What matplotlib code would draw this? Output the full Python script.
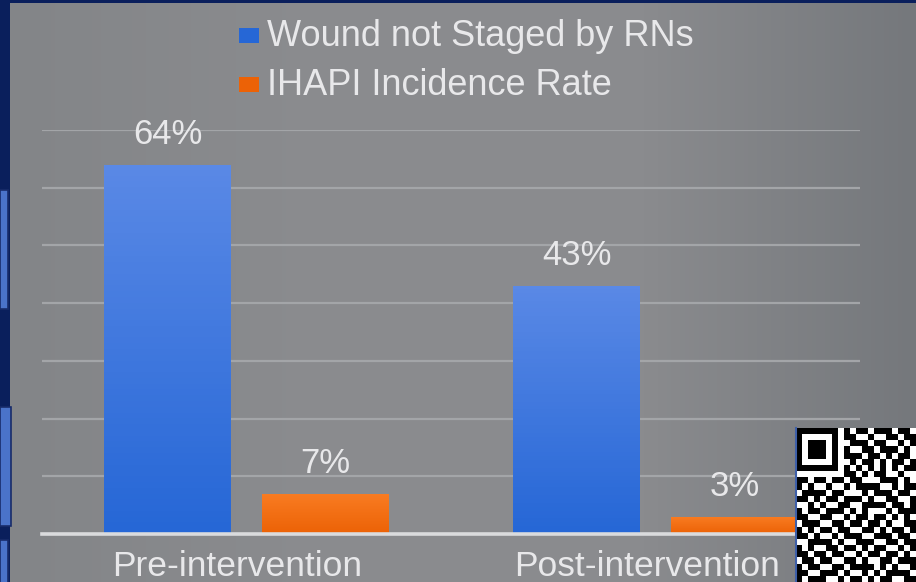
"""Wound staging vs IHAPI incidence, pre/post intervention — grouped bar slide recreation."""
import numpy as np
import matplotlib
matplotlib.use("Agg")
import matplotlib.pyplot as plt
from matplotlib.colors import LinearSegmentedColormap, to_rgb
from matplotlib.patches import Rectangle
from matplotlib.transforms import ScaledTranslation, blended_transform_factory

# --- Data ------------------------------------------------------------------------------------- #
CATEGORIES = ["Pre-intervention", "Post-intervention"]
SERIES = ["Wound not Staged by RNs", "IHAPI Incidence Rate"]
WOUND_NOT_STAGED = [64, 43]     # %
IHAPI_RATE = [7, 3]             # %
Y_TICKS = [10, 20, 30, 40, 50, 60, 70]

# slide decoration: the QR code cropped at the bottom-right corner (visible part only)
QR_ROWS = [
    "11111110101101110110",
    "10000010110010011011",
    "10111010011101100101",
    "10111010100110111010",
    "10111010111011010110",
    "10000010010110101101",
    "11111110101010101011",
    "00000000110101100100",
    "11011011011000111010",
    "10100100101111001011",
    "01111011000101110110",
    "11010110111010011001",
    "00101001100111101101",
    "10110111010100010111",
    "11001100101101101010",
    "01110011011011010011",
    "10101101100110101101",
    "11010010111001110110",
    "00111101001110011011",
    "10100110110101100101",
    "11011011001011011010",
    "01101100110100110111",
    "10110011011110101001",
    "11001110100101011110",
    "10111001011010110011",
]

W, H = 916, 582
NAVY = "#0a1f5c"
TEXT = "#e8e8ea"
BLUE = ("#5a89e6", "#2667d6")       # top, bottom
ORANGE = ("#f97c22", "#ec6206")
FS = 25

plt.rcParams["font.family"] = ["Liberation Sans", "DejaVu Sans"]


def fx(px):
    return px / W


def fy(py):
    return 1 - py / H


fig = plt.figure(figsize=(W / 100, H / 100), dpi=100, facecolor=NAVY)

# --- slide background: gray gradient panel inside the navy frame ------------------------------- #
bg = fig.add_axes([fx(10), 0, fx(W - 10), fy(3)])
bg.set_axis_off()
cols = np.array([to_rgb(c) for c in ("#838588", "#8b8c8f", "#8a8b8e", "#75787c")])
xs = np.linspace(0, 1, 200)
stops = np.array([0.0, 0.35, 0.7, 1.0])
row = np.stack([np.interp(xs, stops, cols[:, k]) for k in range(3)], axis=-1)
bg.imshow(row[None, :, :], aspect="auto", extent=(0, 1, 0, 1))
bg.set_xlim(0, 1)
bg.set_ylim(0, 1)

# blue tabs peeking from the left edge
for y0, y1, x1 in ((190, 309, 8), (407, 526, 11), (540, 590, 8)):
    fig.patches.append(Rectangle((0, fy(y1)), fx(x1), fy(y0) - fy(y1), transform=fig.transFigure,
                                 facecolor="#4a73c9", edgecolor="#182c6a", lw=1.2, zorder=5))

# --- the chart ---------------------------------------------------------------------------------- #
ax = fig.add_axes([fx(42), fy(534), fx(860 - 42), fy(130) - fy(534)])
ax.set_facecolor("none")
x = np.arange(len(CATEGORIES))
width = 0.31
offset = 0.193

for vals, sign, (c_top, c_bot) in ((WOUND_NOT_STAGED, -1, BLUE), (IHAPI_RATE, 1, ORANGE)):
    bars = ax.bar(x + sign * offset, vals, width, color=c_bot, zorder=3)
    cmap = LinearSegmentedColormap.from_list("g", [c_bot, c_top])
    for b, v in zip(bars, vals):
        x0 = b.get_x()
        im = ax.imshow(np.linspace(0, 1, 64)[::-1, None], cmap=cmap, aspect="auto",
                       extent=(x0, x0 + width, 0, v), zorder=3.5)
        im.set_clip_path(b)
        ax.annotate(f"{v}%", (b.get_x() + width / 2, v), xytext=(0, 10), textcoords="offset points",
                    ha="center", va="bottom", fontsize=FS, color=TEXT)

ax.set_xlim(-0.5, 1.5)
ax.set_ylim(0, 70)
ax.set_yticks(Y_TICKS)
ax.yaxis.grid(True, color="#a3a5a8", lw=1.6, zorder=1)
ax.tick_params(axis="y", length=0, labelleft=False)
ax.axhline(0, color="#dadbdd", lw=2.6, zorder=4, clip_on=False)
ax.set_xticks([])
for s in ax.spines.values():
    s.set_visible(False)

# category labels: baseline ~42 px under the axis line, nudged a little left as on the slide
lab_tr = blended_transform_factory(ax.transData, ax.transAxes) + \
    ScaledTranslation(-9 / 100, -42 / 100, fig.dpi_scale_trans)
for xi, name in zip(x, CATEGORIES):
    ax.text(xi, 0, name, transform=lab_tr, fontsize=FS + 0.5, color=TEXT,
            ha="center", va="baseline", clip_on=False)

# legend at the top, hand-placed like the slide
for name, c, base, top in ((SERIES[0], BLUE[1], 46, 28), (SERIES[1], ORANGE[1], 95, 77)):
    fig.patches.append(Rectangle((fx(239), fy(top + 15)), fx(20), fy(top) - fy(top + 15),
                                 transform=fig.transFigure, facecolor=c, edgecolor="none"))
    fig.text(fx(267), fy(base), name, fontsize=FS + 1, color=TEXT, ha="left", va="baseline")

# QR code (cropped) at the bottom-right
qr = np.array([[int(ch) for ch in r] for r in QR_ROWS])
qax = fig.add_axes([fx(796), 0, fx(W - 796), fy(428)])
qax.imshow(1 - qr, cmap="gray", vmin=0, vmax=1, aspect="auto", interpolation="nearest")
qax.set_xticks([])
qax.set_yticks([])
for s in qax.spines.values():
    s.set_visible(False)
qax.spines["left"].set_visible(True)
qax.spines["left"].set_color("#3e5fa8")
qax.spines["left"].set_linewidth(1.5)

fig.savefig("out.png", dpi=100, facecolor=NAVY)
